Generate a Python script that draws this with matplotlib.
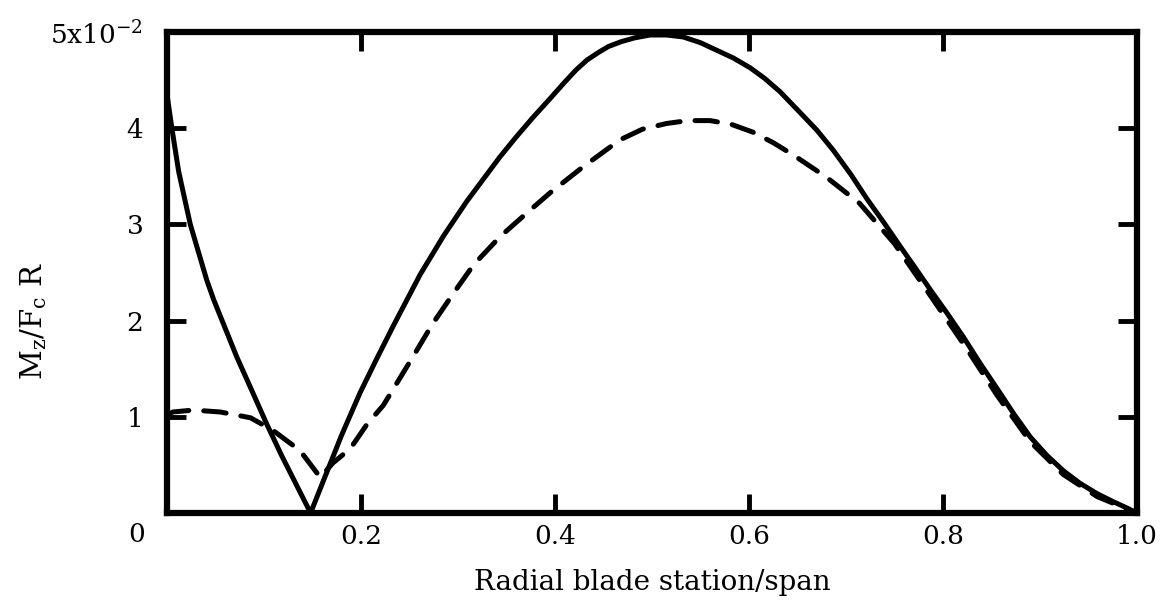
# M_z/F_c R along the blade span
import numpy as np
import matplotlib
matplotlib.use('Agg')
import matplotlib.pyplot as plt

# values in units of 1e-2
x_solid = [0, 0.005, 0.012, 0.024, 0.041, 0.048, 0.060, 0.072, 0.088, 0.103,
           0.118, 0.130, 0.148, 0.161, 0.180, 0.199, 0.216, 0.233, 0.261, 0.285,
           0.309, 0.326, 0.343, 0.360, 0.377, 0.395, 0.410, 0.422, 0.433, 0.445,
           0.455, 0.468, 0.482, 0.498, 0.515, 0.532, 0.550, 0.567, 0.584, 0.601,
           0.616, 0.632, 0.653, 0.670, 0.687, 0.705, 0.722, 0.739, 0.756, 0.772,
           0.787, 0.804, 0.821, 0.838, 0.856, 0.873, 0.890, 0.907, 0.924, 0.941,
           0.959, 0.975, 0.990, 1.0]
y_solid = [4.35, 4.0, 3.55, 3.0, 2.42, 2.22, 1.92, 1.62, 1.26, 0.92,
           0.60, 0.36, 0.0, 0.33, 0.81, 1.25, 1.60, 1.94, 2.48, 2.88,
           3.24, 3.47, 3.70, 3.91, 4.11, 4.31, 4.48, 4.61, 4.71, 4.79,
           4.85, 4.90, 4.94, 4.97, 4.97, 4.95, 4.89, 4.81, 4.73, 4.63,
           4.52, 4.38, 4.16, 3.98, 3.77, 3.52, 3.26, 3.02, 2.77, 2.54,
           2.32, 2.08, 1.83, 1.56, 1.29, 1.03, 0.79, 0.60, 0.44, 0.31,
           0.20, 0.12, 0.05, 0.0]

x_dash = [0, 0.006, 0.027, 0.055, 0.086, 0.109, 0.137, 0.158, 0.171, 0.189,
          0.206, 0.223, 0.243, 0.258, 0.274, 0.295, 0.316, 0.343, 0.371, 0.395,
          0.429, 0.467, 0.490, 0.515, 0.537, 0.560, 0.582, 0.604, 0.625, 0.646,
          0.680, 0.714, 0.750, 0.787, 0.821, 0.856, 0.890, 0.924, 0.959, 0.990,
          1.0]
y_dash = [1.02, 1.05, 1.07, 1.05, 0.99, 0.86, 0.65, 0.37, 0.52, 0.67,
          0.92, 1.12, 1.45, 1.70, 1.97, 2.28, 2.58, 2.87, 3.12, 3.33,
          3.60, 3.88, 3.99, 4.05, 4.08, 4.08, 4.04, 3.96, 3.85, 3.72,
          3.49, 3.22, 2.80, 2.26, 1.76, 1.22, 0.74, 0.40, 0.17, 0.04,
          0.0]

x_ticks = [0.2, 0.4, 0.6, 0.8, 1.0]
x_ticklabels = ['0.2', '0.4', '0.6', '0.8', '1.0']
y_ticks = [1, 2, 3, 4, 5]
y_ticklabels = ['1', '2', '3', '4', r'5x10$^{\mathregular{-2}}$']

plt.rcParams['font.family'] = ['DejaVu Serif']
plt.rcParams['mathtext.fontset'] = 'dejavuserif'

fig = plt.figure(figsize=(11.64, 6.06), dpi=100)
ax = fig.add_axes([0.1435, 0.1535, 0.8333, 0.7935])

ax.plot(x_solid, y_solid, color='black', lw=3.6, solid_capstyle='round',
        solid_joinstyle='round')
ax.plot(x_dash, y_dash, color='black', lw=3.6, linestyle=(0, (4.5, 3)),
        dash_capstyle='round')

ax.set_xlim(0, 1.0)
ax.set_ylim(0, 5)
for s in ax.spines.values():
    s.set_linewidth(4.5)

ax.set_xticks(x_ticks)
ax.set_xticklabels(x_ticklabels)
ax.set_yticks(y_ticks)
ax.set_yticklabels(y_ticklabels)
ax.tick_params(direction='in', length=14, width=3.5, top=True, right=True,
               labelsize=19)
ax.tick_params(axis='x', pad=8)
ax.tick_params(axis='y', pad=17)

# the shared zero at the corner
ax.text(-0.031, -0.045, '0', transform=ax.transAxes, ha='center', va='center',
        fontsize=19)

ax.set_xlabel('Radial blade station/span', fontsize=20, labelpad=14)
ax.set_ylabel(r'M$_\mathregular{z}$/F$_\mathregular{c}$ R', fontsize=21)
ax.yaxis.set_label_coords(-0.122, 0.4)

fig.savefig('out.png', dpi=100)
